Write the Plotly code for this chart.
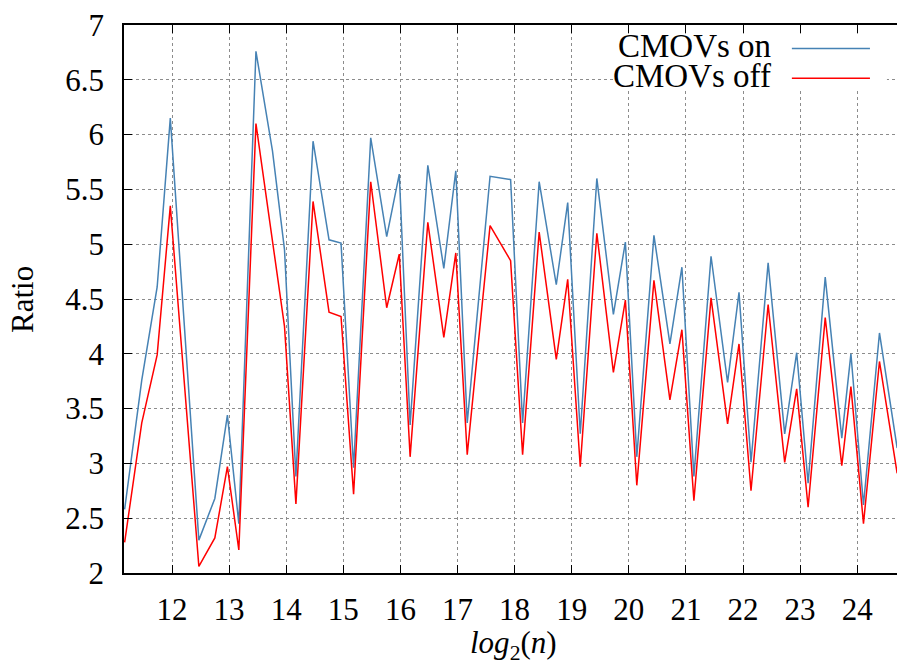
import plotly.graph_objects as go

# log2(n) positions (shared by both series)
log2_n = [11.17, 11.47, 11.74, 11.97, 12.47, 12.75, 12.97, 13.17, 13.47, 13.76,
          13.97, 14.17, 14.47, 14.75, 14.96, 15.18, 15.48, 15.76, 15.98, 16.17,
          16.48, 16.76, 16.97, 17.17, 17.57, 17.93, 18.14, 18.43, 18.73, 18.93,
          19.15, 19.44, 19.73, 19.94, 20.14, 20.44, 20.72, 20.93, 21.14, 21.44,
          21.73, 21.93, 22.14, 22.44, 22.73, 22.94, 23.14, 23.44, 23.73, 23.89,
          24.11, 24.39, 24.70]

ratio_cmovs_on = [2.58, 3.76, 4.61, 6.15, 2.30, 2.68, 3.44, 2.45, 6.76, 5.85,
                  4.95, 2.88, 5.94, 5.04, 5.01, 2.96, 5.97, 5.07, 5.64, 3.35,
                  5.72, 4.78, 5.67, 3.37, 5.62, 5.59, 3.37, 5.57, 4.63, 5.38,
                  3.27, 5.60, 4.36, 5.02, 3.06, 5.08, 4.09, 4.79, 2.88, 4.89,
                  3.74, 4.56, 3.01, 4.83, 3.27, 4.01, 2.82, 4.70, 3.23, 4.00,
                  2.62, 4.19, 3.14]

ratio_cmovs_off = [2.28, 3.37, 3.99, 5.35, 2.06, 2.32, 2.97, 2.21, 6.10, 5.03,
                   4.25, 2.63, 5.39, 4.38, 4.34, 2.72, 5.57, 4.42, 4.91, 3.06,
                   5.20, 4.15, 4.92, 3.08, 5.17, 4.85, 3.08, 5.11, 3.95, 4.68,
                   2.97, 5.10, 3.83, 4.49, 2.80, 4.67, 3.58, 4.22, 2.66, 4.51,
                   3.36, 4.09, 2.75, 4.45, 3.01, 3.68, 2.60, 4.33, 2.98, 3.70,
                   2.45, 3.93, 2.91]

series_names = ["CMOVs on", "CMOVs off"]
series_colors = ["#4682b4", "#ff0000"]

FONT = "Liberation Serif"
FS = 31

fig = go.Figure()
for name, vals, col in zip(series_names, [ratio_cmovs_on, ratio_cmovs_off], series_colors):
    fig.add_trace(go.Scatter(x=log2_n, y=vals, mode="lines", name=name,
                             line=dict(color=col, width=1.5), showlegend=False))

axis_common = dict(
    showline=True, linecolor="black", linewidth=1.5,
    ticks="inside", ticklen=8, tickwidth=1.2, tickcolor="black",
    showgrid=True, gridcolor="#8c8c8c", gridwidth=1, griddash="dot",
    zeroline=False,
    tickfont=dict(family=FONT, size=FS, color="black"),
)

fig.update_xaxes(range=[11.159, 24.697], tick0=12, dtick=1, mirror="ticks",
                 ticklabelstandoff=8, **axis_common)
fig.update_yaxes(range=[2, 7], tick0=2, dtick=0.5, mirror=False,
                 ticklabelstandoff=12, **axis_common)

# legend (gnuplot style: text on the left, sample line on the right)
shapes = [dict(type="rect", xref="paper", yref="paper", x0=0.638, x1=0.987,
               y0=0.882, y1=0.984, fillcolor="white", line=dict(width=0), layer="above")]
annotations = []
leg_y = [0.957, 0.903]
for name, col, yy in zip(series_names, series_colors, leg_y):
    shapes.append(dict(type="line", xref="paper", yref="paper", x0=0.864, x1=0.965,
                       y0=yy, y1=yy, line=dict(color=col, width=1.5), layer="above"))
    annotations.append(dict(text=name, xref="paper", yref="paper", x=0.840, y=yy + 0.004,
                            xanchor="right", yanchor="middle", showarrow=False,
                            font=dict(family=FONT, size=33, color="black")))

annotations.append(dict(text="Ratio", xref="paper", yref="paper", x=-0.132, y=0.5,
                        textangle=-90, xanchor="center", yanchor="middle", showarrow=False,
                        font=dict(family=FONT, size=FS, color="black")))
annotations.append(dict(text="<i>log</i><sub>2</sub>(<i>n</i>)", xref="paper", yref="paper",
                        x=0.504, y=-0.132, xanchor="center", yanchor="middle", showarrow=False,
                        font=dict(family=FONT, size=FS, color="black")))

fig.update_layout(width=897, height=661,
                  margin=dict(l=124, r=0, t=25, b=88),
                  paper_bgcolor="white", plot_bgcolor="white",
                  shapes=shapes, annotations=annotations)

fig.write_html("out.html", config={"displayModeBar": False},
               post_script="document.body.style.margin='0px';document.body.style.overflow='hidden';")
